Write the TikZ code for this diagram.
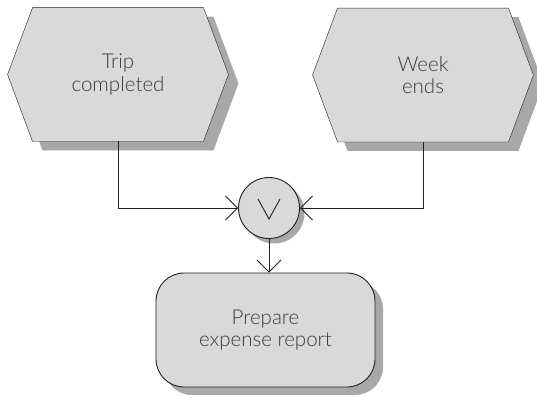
\documentclass[tikz,border=0pt]{standalone}
\usepackage{fontspec}
\setmainfont{Lato Light}
\usetikzlibrary{arrows.meta,shadows,calc,backgrounds}
\definecolor{boxfill}{HTML}{D8D9DB}
\definecolor{shadowc}{HTML}{A7A8AA}
\definecolor{ink}{HTML}{231F20}
\definecolor{txt}{HTML}{3C3C3C}
\begin{document}
\begin{tikzpicture}[x=1pt,y=-1pt,
  line width=0.9pt,
  label text/.style={align=center,text=txt,font=\fontsize{20.5}{22.5}\selectfont},
  evtext/.style={label text,minimum width=220pt,minimum height=133pt,inner sep=0pt},
  evbox/.style={draw=ink,fill=boxfill,line join=miter,
    drop shadow={shadow xshift=10pt,shadow yshift=-9pt,fill=shadowc,opacity=1}},
  actbox/.style={label text,draw=ink,fill=boxfill,rounded corners=28pt,
    minimum width=219pt,minimum height=114pt,inner sep=0pt,
    drop shadow={shadow xshift=8pt,shadow yshift=-8pt,fill=shadowc,opacity=1}},
  joinbox/.style={circle,draw=ink,fill=boxfill,minimum size=61pt,inner sep=0pt,
    drop shadow={shadow xshift=5pt,shadow yshift=-5pt,fill=shadowc,opacity=1}},
  flow/.style={draw=ink,-{Straight Barb[length=12pt,width=24pt,line width=0.9pt]}}]
\useasboundingbox (0,0) rectangle (537,397);

% events
\node[evtext] (trip) at (118,74.5) {Trip\\completed};
\node[evtext] (week) at (423,75) {Week\\ends};
\begin{scope}[on background layer]
  \foreach \e in {trip,week}
    \path[evbox] (\e.west) -- ($(\e.north west)+(25,0)$) -- ($(\e.north east)+(-25,0)$)
      -- (\e.east) -- ($(\e.south east)+(-25,0)$) -- ($(\e.south west)+(25,0)$) -- cycle;
\end{scope}

% OR connector
\node[joinbox] (or) at (269,208) {};
\draw[ink] ($(or.center)+(-11,-9)$) -- ($(or.center)+(0,11)$) -- ($(or.center)+(11,-9)$);

% function
\node[actbox] (act) at (265.5,330) {Prepare\\expense report};

% control flow
\draw[flow] (trip.south) |- (or.west);
\draw[flow] (week.south) |- (or.east);
\draw[flow] (or.south) -- (or.south |- act.north);
\end{tikzpicture}
\end{document}
